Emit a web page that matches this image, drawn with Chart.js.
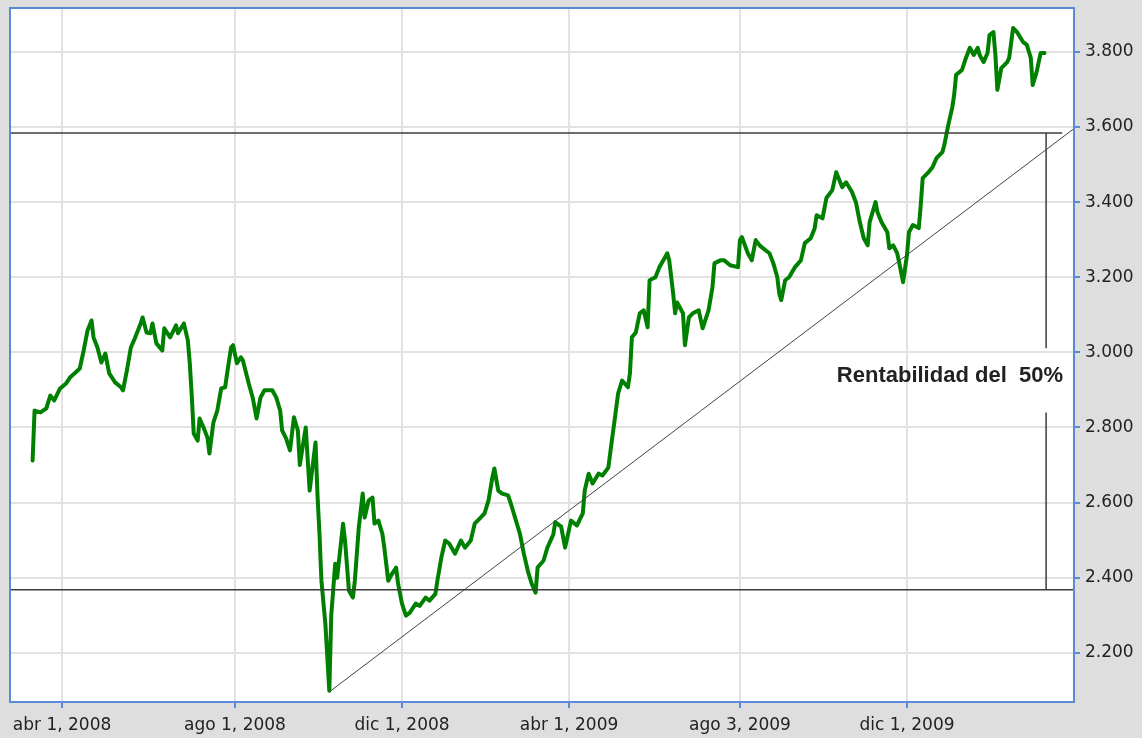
<!DOCTYPE html>
<html>
<head>
<meta charset="utf-8">
<title>Rentabilidad del 50%</title>
<script src="https://cdn.jsdelivr.net/npm/chart.js@4.4.0/dist/chart.umd.min.js"></script>
<style>
  html, body { margin: 0; padding: 0; background: #dedede; }
  #wrap { width: 1142px; height: 738px; }
</style>
</head>
<body>
<div id="wrap"><canvas id="chart" width="1142" height="738"></canvas></div>
<script>
// x axis is counted in trading sessions, 0 = abr 1, 2008
const tickSessions = [0, 88, 173, 258, 345, 430];
const tickLabels = ['abr 1, 2008', 'ago 1, 2008', 'dic 1, 2008', 'abr 1, 2009', 'ago 3, 2009', 'dic 1, 2009'];
const yTicks = [2200, 2400, 2600, 2800, 3000, 3200, 3400, 3600, 3800];

// index closes
const sessions = [
  -15, -14, -11, -8, -6, -4, -1, 2, 4, 7,
  9, 11, 13, 15, 16, 18, 20, 22, 24, 27,
  30, 31, 33, 35, 37, 40, 41, 43, 45, 46,
  48, 51, 52, 55, 58, 59, 62, 64, 65, 66,
  67, 69, 70, 72, 74, 75, 77, 79, 81, 83,
  84, 86, 87, 89, 91, 92, 95, 97, 99, 101,
  103, 107, 109, 111, 112, 114, 116, 118, 120, 121,
  124, 126, 129, 130, 131, 132, 134, 136, 137, 139,
  140, 143, 144, 146, 148, 149, 151, 153, 154, 156,
  158, 159, 161, 163, 164, 166, 168, 170, 171, 173,
  175, 177, 180, 182, 185, 187, 190, 191, 193, 195,
  197, 200, 203, 205, 208, 210, 213, 215, 217, 219,
  220, 222, 224, 227, 229, 231, 233, 235, 237, 239,
  241, 242, 245, 247, 250, 251, 254, 256, 259, 262,
  265, 266, 268, 270, 273, 275, 278, 280, 281, 283,
  285, 288, 289, 290, 292, 294, 296, 298, 299, 302,
  304, 306, 308, 309, 311, 312, 313, 316, 317, 319,
  321, 324, 326, 329, 331, 332, 335, 337, 340, 344,
  345, 346, 349, 351, 353, 355, 358, 360, 362, 364,
  365, 366, 368, 370, 373, 376, 378, 381, 383, 384,
  387, 389, 392, 394, 397, 399, 402, 404, 406, 408,
  410, 411, 414, 415, 417, 420, 421, 423, 425, 426,
  428, 430, 431, 433, 436, 437, 438, 441, 443, 445,
  448, 449, 451, 453, 454, 455, 458, 460, 462, 464,
  466, 467, 469, 471, 472, 474, 475, 476, 478, 481,
  482, 484, 486, 489, 491, 493, 494, 496, 498, 500
];
const closes = [
  2712, 2845, 2840, 2851, 2885, 2872, 2904, 2917, 2933, 2947,
  2957, 3005, 3059, 3085, 3040, 3013, 2973, 2997, 2944, 2920,
  2907, 2899, 2952, 3013, 3037, 3077, 3093, 3053, 3051, 3077,
  3024, 3005, 3064, 3040, 3072, 3051, 3077, 3032, 2971, 2885,
  2784, 2765, 2824, 2800, 2773, 2731, 2813, 2845, 2904, 2907,
  2944, 3013, 3019, 2971, 2987, 2979, 2917, 2880, 2824, 2880,
  2899, 2899, 2880, 2845, 2792, 2771, 2739, 2827, 2792, 2700,
  2800, 2632, 2760, 2620, 2517, 2392, 2277, 2099, 2300, 2437,
  2400, 2544, 2499, 2365, 2347, 2392, 2533, 2624, 2560, 2605,
  2613, 2544, 2552, 2517, 2480, 2392, 2411, 2427, 2384, 2331,
  2299, 2307, 2331, 2325, 2347, 2339, 2357, 2392, 2453, 2499,
  2491, 2464, 2499, 2480, 2499, 2544, 2560, 2571, 2605, 2667,
  2691, 2632, 2624, 2619, 2587, 2552, 2517, 2464, 2419, 2384,
  2360, 2427, 2445, 2480, 2515, 2548, 2536, 2480, 2552, 2539,
  2571, 2632, 2677, 2651, 2677, 2672, 2693, 2773, 2811, 2891,
  2925, 2907, 2944, 3040, 3053, 3104, 3112, 3067, 3192, 3200,
  3227, 3245, 3264, 3245, 3157, 3104, 3133, 3104, 3019, 3093,
  3104, 3112, 3064, 3112, 3173, 3237, 3245, 3245, 3232, 3227,
  3299, 3307, 3264, 3245, 3299, 3285, 3272, 3264, 3237, 3200,
  3157, 3139, 3192, 3200, 3227, 3245, 3291, 3304, 3330, 3365,
  3357, 3411, 3432, 3480, 3440, 3453, 3427, 3400, 3347, 3304,
  3285, 3347, 3400, 3373, 3347, 3320, 3277, 3285, 3264, 3240,
  3187, 3259, 3320, 3339, 3331, 3392, 3464, 3480, 3493, 3517,
  3533, 3552, 3605, 3651, 3685, 3739, 3752, 3784, 3811, 3792,
  3811, 3792, 3773, 3797, 3845, 3853, 3792, 3699, 3757, 3773,
  3784, 3864, 3853, 3827, 3819, 3784, 3712, 3747, 3797, 3797
];

// annotation lines
const supportLevel = 2368;
const targetLevel = 3584;
const trendSessions = [136, 515];
const trendValues = [2096, 3596];
const gapSession = 500.8;
const gapBreak = [3011, 2840];
const noteText = 'Rentabilidad del  50%';
const noteSession = 509.4;
const noteValue = 2936;

const xMin = -26.5, xMax = 515;
const blue = '#5a8ad6';

function fmtThousands(v) {
  return Math.floor(v / 1000) + '.' + String(Math.round(v % 1000)).padStart(3, '0');
}

function segment(x0, y0, x1, y1, width, color) {
  return {
    data: [{ x: x0, y: y0 }, { x: x1, y: y1 }],
    borderColor: color,
    borderWidth: width,
    pointRadius: 0,
    tension: 0
  };
}

// gray page, white plot, blue frame and the text note
const framePlugin = {
  id: 'frame',
  beforeDraw(chart) {
    const { ctx, chartArea: a } = chart;
    ctx.save();
    ctx.fillStyle = '#dedede';
    ctx.fillRect(0, 0, chart.width, chart.height);
    ctx.fillStyle = '#ffffff';
    ctx.fillRect(a.left, a.top, a.right - a.left, a.bottom - a.top);
    ctx.restore();
  },
  afterDraw(chart) {
    const { ctx, chartArea: a, scales } = chart;
    ctx.save();
    ctx.strokeStyle = blue;
    ctx.lineWidth = 2;
    ctx.strokeRect(a.left, a.top, a.right - a.left, a.bottom - a.top);
    ctx.font = 'bold 22px "Liberation Sans", Arial, sans-serif';
    ctx.fillStyle = '#222222';
    ctx.textAlign = 'right';
    ctx.textBaseline = 'middle';
    ctx.fillText(noteText, scales.x.getPixelForValue(noteSession), scales.y.getPixelForValue(noteValue));
    ctx.restore();
  }
};

const ctx = document.getElementById('chart').getContext('2d');
new Chart(ctx, {
  type: 'line',
  data: {
    datasets: [
      segment(xMin, supportLevel, xMax, supportLevel, 1.6, '#3c3c3c'),
      segment(xMin, targetLevel, 509, targetLevel, 1.6, '#3c3c3c'),
      segment(trendSessions[0], trendValues[0], trendSessions[1], trendValues[1], 1, '#444444'),
      segment(gapSession, targetLevel, gapSession, gapBreak[0], 1.5, '#3c3c3c'),
      segment(gapSession, gapBreak[1], gapSession, supportLevel, 1.5, '#3c3c3c'),
      {
        data: sessions.map((s, i) => ({ x: s, y: closes[i] })),
        borderColor: '#008000',
        borderWidth: 4,
        borderJoinStyle: 'round',
        borderCapStyle: 'round',
        pointRadius: 0,
        tension: 0
      }
    ]
  },
  options: {
    responsive: false,
    animation: false,
    layout: { padding: { left: 10, top: 8, right: 0, bottom: 0 } },
    plugins: { legend: { display: false }, tooltip: { enabled: false } },
    scales: {
      x: {
        type: 'linear',
        min: xMin,
        max: xMax,
        afterBuildTicks: s => { s.ticks = tickSessions.map(v => ({ value: v })); },
        afterFit: s => { s.height = 36; s.paddingLeft = 0; s.paddingRight = 0; },
        ticks: {
          autoSkip: false,
          maxRotation: 0,
          padding: 7,
          color: '#222222',
          font: { family: 'DejaVu Sans', size: 17 },
          callback: (v, i) => tickLabels[i]
        },
        grid: { color: '#e2e2e2', lineWidth: 2, tickColor: blue, tickLength: 6, tickWidth: 2 },
        border: { display: true, color: blue, width: 2 }
      },
      y: {
        position: 'right',
        min: 2069,
        max: 3917,
        afterBuildTicks: s => { s.ticks = yTicks.map(v => ({ value: v })); },
        afterFit: s => { s.width = 68; s.paddingTop = 0; s.paddingBottom = 0; },
        ticks: {
          padding: 5,
          color: '#222222',
          font: { family: 'DejaVu Sans', size: 17 },
          callback: v => fmtThousands(v)
        },
        grid: { color: '#e2e2e2', lineWidth: 2, tickColor: blue, tickLength: 6, tickWidth: 2 },
        border: { display: true, color: blue, width: 2 }
      }
    }
  },
  plugins: [framePlugin]
});
</script>
</body>
</html>
